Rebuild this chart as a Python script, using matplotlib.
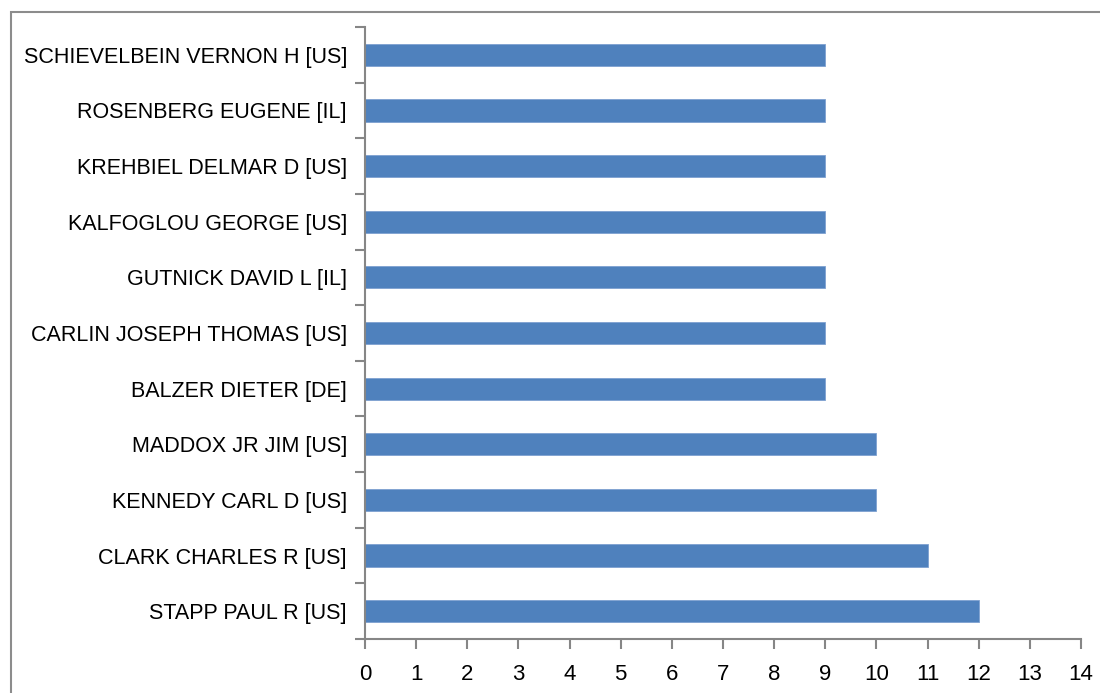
import matplotlib
matplotlib.use("Agg")
import matplotlib.pyplot as plt
from matplotlib.patches import Rectangle

names = [
    "STAPP PAUL R [US]",
    "CLARK CHARLES R [US]",
    "KENNEDY CARL D [US]",
    "MADDOX JR JIM [US]",
    "BALZER DIETER [DE]",
    "CARLIN JOSEPH THOMAS [US]",
    "GUTNICK DAVID L [IL]",
    "KALFOGLOU GEORGE [US]",
    "KREHBIEL DELMAR D [US]",
    "ROSENBERG EUGENE [IL]",
    "SCHIEVELBEIN VERNON H [US]",
]
counts = [12, 11, 10, 10, 9, 9, 9, 9, 9, 9, 9]
xticks = list(range(0, 15))

plt.rcParams["font.family"] = ["Liberation Sans", "DejaVu Sans"]

fig = plt.figure(figsize=(11, 6.93), dpi=100)
ax = fig.add_axes([365 / 1100, 1 - 639 / 693, (1081 - 365) / 1100, (639 - 27) / 693])

# outer chart border (runs off the right and bottom edges)
fig.patches.append(Rectangle((10.5 / 1100, -0.1), 1.2, 1 - 11.5 / 693 + 0.1,
                             transform=fig.transFigure, fill=False,
                             edgecolor="#8c8c8c", linewidth=1.5))

ys = range(len(names))
ax.barh(ys, counts, height=0.4, color="#4f81bd", edgecolor="#7ea1d0", linewidth=0.6)

ax.set_xlim(0, 14)
ax.set_ylim(-0.5, len(names) - 0.5)
ax.set_xticks(xticks)
ax.set_xticklabels([str(t) for t in xticks], fontsize=16)
ax.set_yticks(list(ys))
ax.set_yticklabels(names, fontsize=15.5)
ax.set_yticks([i - 0.5 for i in range(len(names) + 1)], minor=True)

for s in ["top", "right"]:
    ax.spines[s].set_visible(False)
for s in ["left", "bottom"]:
    ax.spines[s].set_color("#868686")
    ax.spines[s].set_linewidth(1.5)

ax.tick_params(axis="x", direction="out", length=7, width=1.5, color="#868686", pad=11)
ax.tick_params(axis="y", which="major", length=0, pad=13)
ax.tick_params(axis="y", which="minor", direction="out", length=7, width=1.5, color="#868686")

fig.savefig("out.png", dpi=100)
